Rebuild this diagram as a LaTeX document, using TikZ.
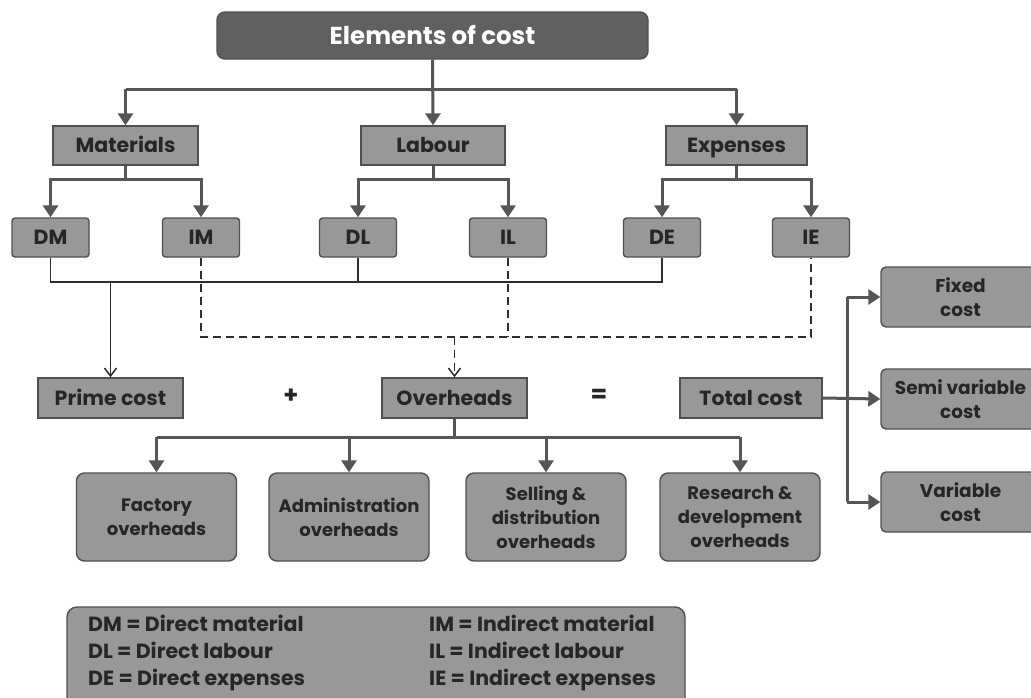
\documentclass[tikz,border=0pt]{standalone}
\usepackage{fontspec}
\setmainfont{Poppins}
\usetikzlibrary{arrows.meta}
\definecolor{boxfill}{RGB}{152,152,152}
\definecolor{boxline}{RGB}{80,80,80}
\definecolor{headfill}{RGB}{96,96,96}
\definecolor{linkcol}{RGB}{85,85,85}
\definecolor{thincol}{RGB}{45,45,45}
\begin{document}
\begin{tikzpicture}[x=1pt,y=-1pt,
  base/.style={draw=boxline,line width=1.4pt,fill=boxfill,text=black!85,inner sep=0pt,align=center,font=\bfseries\fontsize{20.5}{24}\selectfont},
  oneline/.style={text height=#1,text depth=0pt},
  oneline/.default=14.4pt,
  headbox/.style={base,oneline=17.2pt,fill=headfill,text=white,rounded corners=8pt,minimum width=431pt,minimum height=47pt,font=\bfseries\fontsize{24.5}{28}\selectfont},
  catbox/.style={base,oneline,minimum width=#1,minimum height=39pt},
  subbox/.style={base,oneline,rounded corners=3pt,minimum width=77pt,minimum height=39pt},
  sumbox/.style={base,oneline,minimum width=#1,minimum height=40pt},
  kindbox/.style={base,rounded corners=5pt,minimum width=159pt,minimum height=60pt,font=\bfseries\fontsize{18.5}{24}\selectfont},
  ohbox/.style={base,rounded corners=8pt,minimum width=160pt,minimum height=88pt,font=\bfseries\fontsize{18}{24}\selectfont},
  fat/.style={draw=linkcol,line width=3pt},
  fatarrow/.style={fat,-{Triangle[width=15pt,length=12pt]}},
  thin/.style={draw=thincol,line width=1.5pt},
  thinarrow/.style={thin,-{Straight Barb[width=12pt,length=8pt]}},
  dashlink/.style={thin,dash pattern=on 8pt off 5pt},
  sign/.style={font=\bfseries\fontsize{24}{28}\selectfont,text=black!85},
  keytext/.style={anchor=north west,align=left,inner sep=0pt,font=\bfseries\fontsize{20.5}{27}\selectfont,text=black!85}
]
\clip (0,0) rectangle (1031,697);
\fill[white] (0,0) rectangle (1031,697);

% heading
\node[headbox] (top) at (432.5,35.5) {Elements of cost};

% cost elements
\node[catbox=145pt] (mat) at (125.5,145.5) {Materials};
\node[catbox=144pt] (lab) at (433,145.5) {Labour};
\node[catbox=141pt] (exp) at (736.5,145.5) {Expenses};

\node[subbox] (dm) at (50.5,237.5) {DM};
\node[subbox] (im) at (201,237.5) {IM};
\node[subbox] (dl) at (358,237.5) {DL};
\node[subbox] (il) at (508,237.5) {IL};
\node[subbox] (de) at (662,237.5) {DE};
\node[subbox] (ie) at (811,237.5) {IE};

% cost equation
\node[sumbox=145pt] (prime) at (110.5,398) {Prime cost};
\node[sign] (plus) at (291,396) {+};
\node[sumbox=145pt] (oh) at (454.5,398) {Overheads};
\node[sign] (eq) at (599,396) {=};
\node[sumbox=142pt] (total) at (751,398) {Total cost};

% behaviour of total cost
\node[kindbox] (fixed) at (960.5,297) {Fixed\\cost};
\node[kindbox] (semi) at (960.5,399) {Semi variable\\cost};
\node[kindbox] (var) at (960.5,502) {Variable\\cost};

% kinds of overheads
\node[ohbox] (fac) at (156.5,517) {Factory\\overheads};
\node[ohbox] (adm) at (349,517) {Administration\\overheads};
\node[ohbox] (sel) at (546,517) {Selling \&\\distribution\\overheads};
\node[ohbox] (rnd) at (740,517) {Research \&\\development\\overheads};

% abbreviations
\draw[draw=boxline,line width=1.4pt,fill=boxfill,rounded corners=10pt] (67,607) rectangle (685,730);
\node[keytext] (keyl) at (88,615)
  {DM = Direct material\\DL = Direct labour\\DE = Direct expenses};
\node[keytext] (keyr) at (429,615)
  {IM = Indirect material\\IL = Indirect labour\\IE = Indirect expenses};

% heading to elements
\coordinate (hb) at (0,89);
\draw[fat] (mat.north |- hb) -- (exp.north |- hb);
\draw[fatarrow] (top.south) -- (lab.north);
\draw[fatarrow] (mat.north |- hb) -- (mat.north);
\draw[fatarrow] (exp.north |- hb) -- (exp.north);

% elements to direct / indirect
\coordinate (sb) at (0,179);
\draw[fat] (mat.south) -- (mat.south |- sb);
\draw[fat] (lab.south) -- (lab.south |- sb);
\draw[fat] (exp.south) -- (exp.south |- sb);
\draw[fatarrow] (mat.south |- sb) -| (dm.north);
\draw[fatarrow] (mat.south |- sb) -| (im.north);
\draw[fatarrow] (lab.south |- sb) -| (dl.north);
\draw[fatarrow] (lab.south |- sb) -| (il.north);
\draw[fatarrow] (exp.south |- sb) -| (de.north);
\draw[fatarrow] (exp.south |- sb) -| (ie.north);

% direct items to prime cost
\coordinate (db) at (0,282);
\draw[thin] (dm.south) |- (de.south |- db) -- (de.south);
\draw[thin] (dl.south) -- (dl.south |- db);
\draw[thinarrow] (prime.north |- db) -- (prime.north);

% indirect items to overheads
\coordinate (ib) at (0,337);
\draw[dashlink] (im.south) |- (ie.south |- ib) -- (ie.south);
\draw[dashlink] (il.south) -- (il.south |- ib);
\draw[dashlink,-{Straight Barb[width=12pt,length=8pt]}] (oh.north |- ib) -- (oh.north);

% overheads to its kinds
\coordinate (ob) at (0,437);
\draw[fat] (oh.south) -- (oh.south |- ob);
\draw[fat] (fac.north |- ob) -- (rnd.north |- ob);
\draw[fatarrow] (fac.north |- ob) -- (fac.north);
\draw[fatarrow] (adm.north |- ob) -- (adm.north);
\draw[fatarrow] (sel.north |- ob) -- (sel.north);
\draw[fatarrow] (rnd.north |- ob) -- (rnd.north);

% total cost to its behaviour
\coordinate (tv) at (847,0);
\draw[fatarrow] (total.east) -- (semi.west);
\draw[fat] (tv |- fixed.west) -- (tv |- var.west);
\draw[fatarrow] (tv |- fixed.west) -- (fixed.west);
\draw[fatarrow] (tv |- var.west) -- (var.west);
\end{tikzpicture}
\end{document}
